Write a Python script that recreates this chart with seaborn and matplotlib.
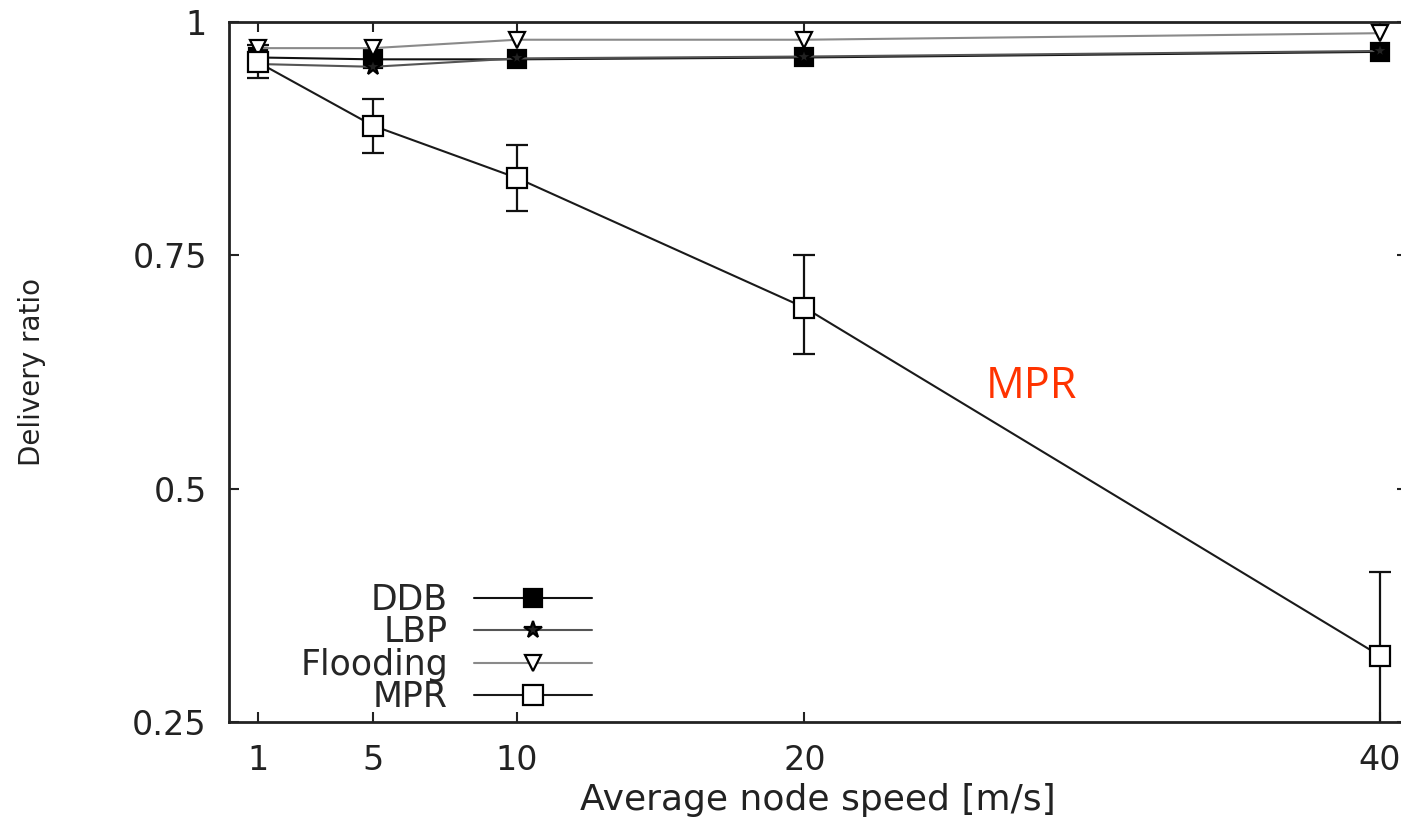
import numpy as np
import pandas as pd
import seaborn as sns
import matplotlib.pyplot as plt
from matplotlib.lines import Line2D

speeds = [1, 5, 10, 20, 40]
ddb = [0.962, 0.960, 0.960, 0.962, 0.968]
lbp = [0.955, 0.952, 0.961, 0.963, 0.969]
flooding = [0.972, 0.972, 0.981, 0.981, 0.988]
mpr = [0.957, 0.889, 0.833, 0.694, 0.321]
mpr_lo = [0.940, 0.860, 0.797, 0.644, 0.240]
mpr_hi = [0.975, 0.917, 0.868, 0.750, 0.411]

protocols = ["DDB", "LBP", "Flooding", "MPR"]
series = {"DDB": ddb, "LBP": lbp, "Flooding": flooding, "MPR": mpr}

rows = []
for p in protocols:
    for s, v in zip(speeds, series[p]):
        rows.append({"speed": s, "ratio": v, "protocol": p})
df = pd.DataFrame(rows)

sns.set_style("ticks")
plt.rcParams['font.family'] = ['DejaVu Sans']

colors = {"DDB": "#111111", "LBP": "#555555", "Flooding": "#8a8a8a", "MPR": "#1a1a1a"}
markers = {"DDB": "s", "LBP": "*", "Flooding": "v", "MPR": "s"}
faces = {"DDB": "black", "LBP": "#222222", "Flooding": "white", "MPR": "white"}
msize = {"DDB": 13, "LBP": 13, "Flooding": 12, "MPR": 15}

fig = plt.figure(figsize=(14.01, 8.24), dpi=100)
ax = fig.add_axes([229 / 1401, 102 / 824, 1178 / 1401, 700 / 824])

# MPR error bars
yerr = [np.array(mpr) - np.array(mpr_lo), np.array(mpr_hi) - np.array(mpr)]
ax.errorbar(speeds, mpr, yerr=yerr, fmt="none", ecolor="#111111",
            elinewidth=1.6, capsize=8, capthick=1.6, zorder=2)

for p in protocols:
    sub = df[df.protocol == p]
    sns.lineplot(data=sub, x="speed", y="ratio", ax=ax, color=colors[p],
                 marker=markers[p], markersize=msize[p],
                 markerfacecolor=faces[p], markeredgecolor="black",
                 markeredgewidth=1.6, linewidth=1.5, legend=False, zorder=3)

ax.set_xlim(0, 40.94)
ax.set_ylim(0.25, 1.0)
ax.set_xticks(speeds)
ax.set_xticklabels([str(s) for s in speeds])
ax.set_yticks([0.25, 0.5, 0.75, 1.0])
ax.set_yticklabels(["0.25", "0.5", "0.75", "1"])
ax.tick_params(direction="in", top=True, right=True, length=7, width=1.5,
               labelsize=24, colors="#222222", pad=16)
for sp in ax.spines.values():
    sp.set_linewidth(2)
    sp.set_color("#222222")

ax.set_xlabel("Average node speed [m/s]", fontsize=26, color="#222222", labelpad=4)
ax.set_ylabel("Delivery ratio", fontsize=20, color="#222222", labelpad=62)

handles = [Line2D([0], [0], color=colors[p], marker=markers[p], markersize=msize[p],
                  markerfacecolor=faces[p], markeredgecolor="black",
                  markeredgewidth=1.6, linewidth=1.5) for p in protocols]
ax.legend(handles, protocols, loc="lower right", frameon=False, markerfirst=False,
          fontsize=25, handlelength=3.4, handletextpad=0.75, labelspacing=-0.05,
          borderpad=0, borderaxespad=0,
          bbox_to_anchor=(592 / 1401, 110 / 824), bbox_transform=fig.transFigure)

ax.text(26.3, 0.609, "MPR", color="#ff3300", fontsize=31, family=["Open Sans", "DejaVu Sans"],
        ha="left", va="center")

fig.savefig("out.png", dpi=100)
